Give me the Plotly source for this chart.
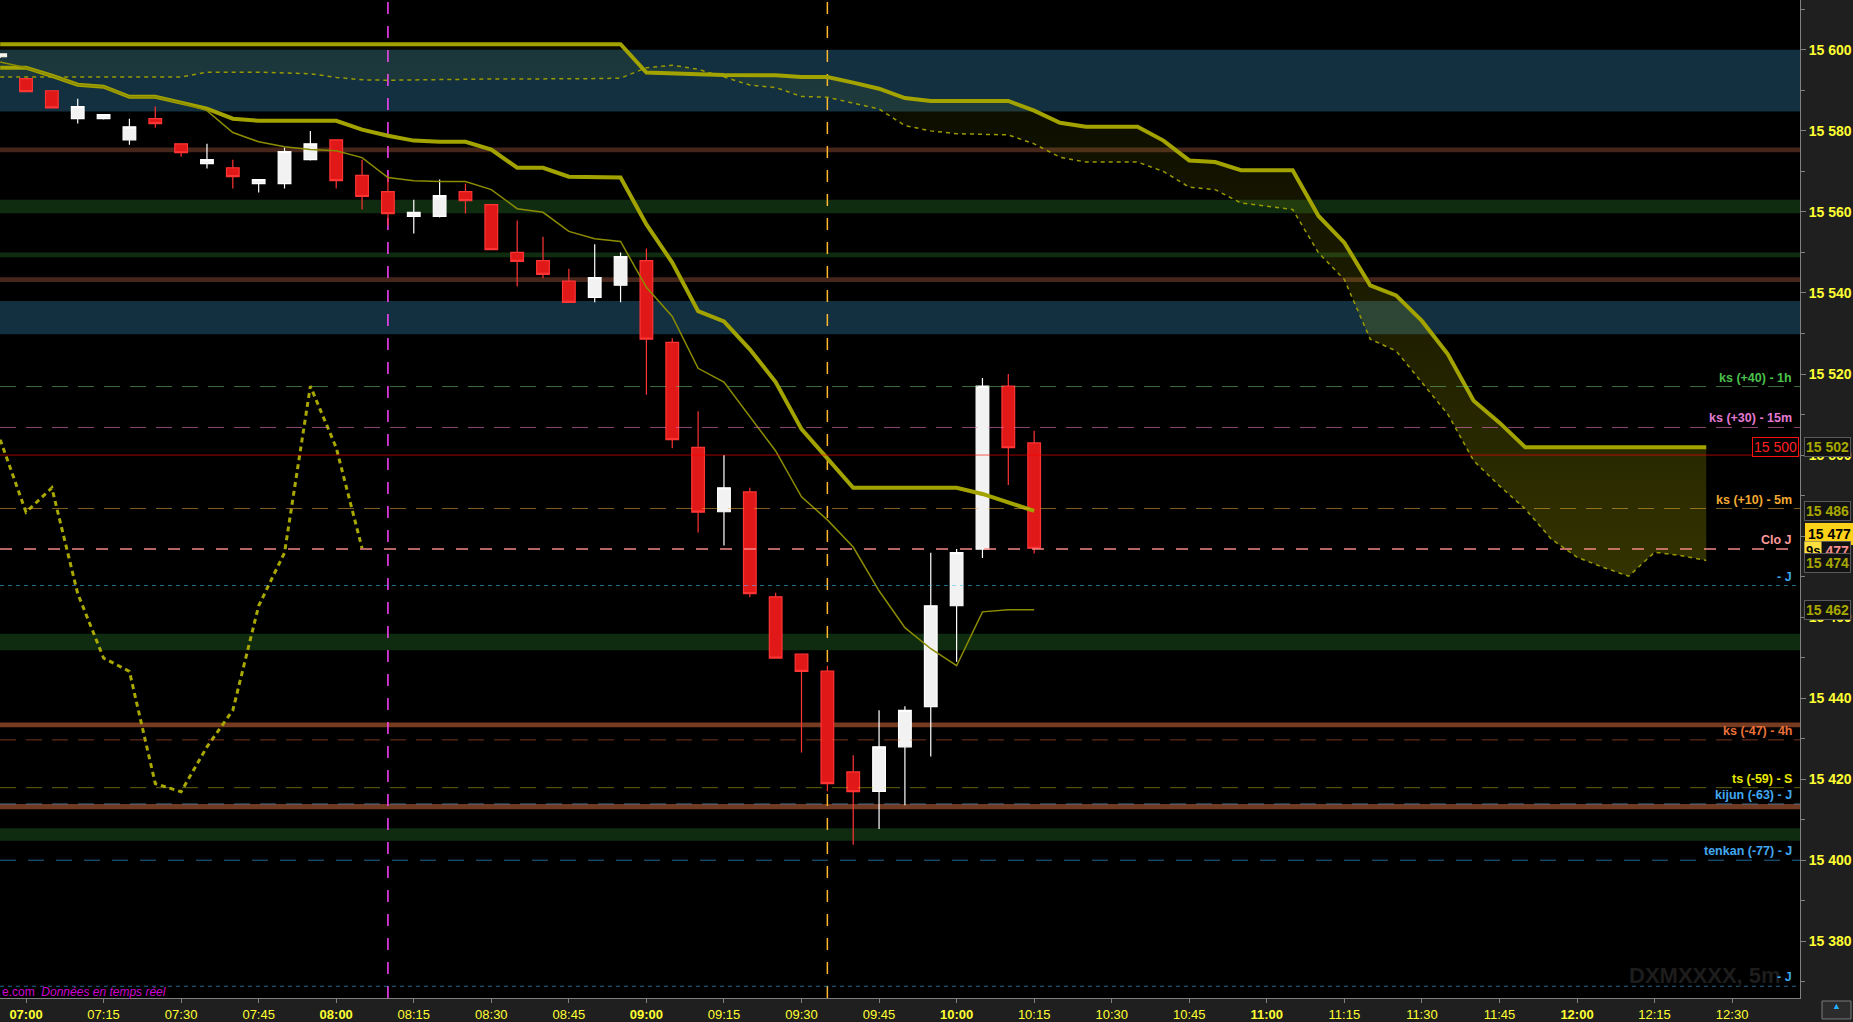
import pandas as pd
import plotly.graph_objects as go

# ---------------- data ----------------
candle_times = pd.date_range("2024-01-15 06:55", periods=41, freq="5min")
span_times = pd.date_range("2024-01-15 06:55", periods=67, freq="5min")

opens = [15598.3, 15592.9, 15589.9, 15583.0, 15583.0, 15577.8, 15583.0, 15576.8, 15571.9, 15570.9,
         15567.0, 15567.0, 15572.9, 15577.8, 15569.0, 15565.0, 15558.9, 15558.9, 15565.0, 15561.8,
         15550.0, 15548.0, 15542.9, 15538.9, 15541.9, 15548.0, 15527.8, 15501.9, 15486.0, 15490.9,
         15465.0, 15450.9, 15446.7, 15421.8, 15417.0, 15428.0, 15437.9, 15462.8, 15476.8, 15517.0,
         15503.0]
highs = [15599.0, 15593.0, 15589.9, 15587.9, 15584.0, 15583.0, 15586.0, 15576.8, 15576.8, 15572.9,
         15568.0, 15575.9, 15580.0, 15577.8, 15572.9, 15569.0, 15563.0, 15568.0, 15567.0, 15561.8,
         15557.9, 15553.9, 15546.0, 15552.0, 15550.0, 15551.0, 15528.8, 15510.8, 15500.0, 15491.9,
         15466.0, 15450.9, 15448.0, 15425.9, 15437.0, 15438.0, 15475.9, 15476.8, 15519.0, 15520.0,
         15506.0]
lows = [15598.0, 15589.7, 15585.7, 15581.8, 15582.8, 15576.6, 15580.8, 15573.6, 15570.7, 15565.8,
        15564.8, 15565.8, 15572.7, 15565.8, 15560.6, 15556.7, 15554.7, 15558.6, 15559.6, 15550.7,
        15541.6, 15543.6, 15537.7, 15537.7, 15537.7, 15514.9, 15501.7, 15480.9, 15477.7, 15464.9,
        15449.9, 15426.6, 15417.0, 15403.8, 15407.7, 15413.6, 15425.6, 15449.0, 15474.6, 15492.6,
        15475.7]
closes = [15599.0, 15589.7, 15585.7, 15586.0, 15584.0, 15581.0, 15581.8, 15574.6, 15572.9, 15568.7,
          15568.0, 15574.9, 15576.8, 15567.7, 15563.8, 15559.6, 15559.9, 15564.0, 15562.8, 15550.7,
          15547.8, 15544.6, 15537.7, 15543.8, 15549.0, 15528.6, 15503.8, 15485.9, 15491.9, 15465.8,
          15449.9, 15446.6, 15418.9, 15416.9, 15428.0, 15437.0, 15462.8, 15475.9, 15517.0, 15501.8,
          15477.0]

kijun = [15595.6, 15595.6, 15593.6, 15591.4, 15590.9, 15588.4, 15588.4, 15586.9, 15585.5, 15583.0,
         15582.5, 15582.5, 15582.5, 15582.5, 15580.3, 15578.8, 15577.6, 15577.3, 15577.3, 15575.4,
         15570.9, 15570.9, 15568.7, 15568.6, 15568.5, 15556.9, 15547.5, 15535.5, 15533.0, 15526.1,
         15518.0, 15506.4, 15499.0, 15491.9, 15491.9, 15491.9, 15491.9, 15491.9, 15490.4, 15488.4,
         15486.2]
tenkan = [15597.0, 15595.6, 15593.6, 15591.4, 15590.9, 15588.4, 15588.4, 15586.9, 15585.0, 15579.6,
          15577.3, 15576.1, 15575.4, 15575.1, 15573.4, 15568.5, 15567.7, 15567.5, 15567.5, 15565.5,
          15560.8, 15559.9, 15555.2, 15553.4, 15552.7, 15541.4, 15534.2, 15521.4, 15518.0, 15509.4,
          15501.0, 15489.7, 15484.0, 15477.3, 15466.5, 15457.4, 15452.2, 15448.0, 15461.3, 15461.8,
          15461.8]
senkou_a = [15593.3, 15593.3, 15593.3, 15593.3, 15593.3, 15593.3, 15593.3, 15593.3, 15594.5, 15594.5,
            15594.5, 15594.3, 15594.1, 15593.2, 15592.6, 15592.5, 15592.6, 15592.7, 15592.7, 15592.8,
            15592.8, 15592.8, 15592.8, 15592.9, 15593.0, 15595.6, 15596.2, 15595.2, 15593.3, 15591.3,
            15590.7, 15588.5, 15588.3, 15586.8, 15585.4, 15581.3, 15580.0, 15579.3, 15579.1, 15579.0,
            15576.8, 15573.5, 15572.3, 15572.3, 15572.3, 15570.0, 15566.1, 15565.5, 15562.2, 15561.4,
            15560.6, 15549.9, 15543.3, 15528.6, 15525.7, 15517.9, 15510.1, 15498.6, 15492.4, 15486.7,
            15479.3, 15474.8, 15472.3, 15470.1, 15476.0, 15475.2, 15474.0]
senkou_b = [15601.4] * 25 + [
            15594.4, 15594.3, 15594.0, 15593.8, 15593.8, 15593.7, 15593.3, 15593.3, 15591.9, 15590.4,
            15588.1, 15587.4, 15587.4, 15587.4, 15587.4, 15585.0, 15582.0, 15581.0, 15581.0, 15581.0,
            15577.6, 15572.7, 15572.3, 15570.3, 15570.3, 15570.3, 15559.0, 15552.4, 15541.9, 15539.4,
            15533.1, 15524.9, 15513.4, 15508.0, 15501.9, 15501.9, 15501.9, 15501.9, 15501.9, 15501.9,
            15501.9, 15501.9]
chikou_shift = 26

x_tick_labels = ["07:00", "07:15", "07:30", "07:45", "08:00", "08:15", "08:30", "08:45",
                 "09:00", "09:15", "09:30", "09:45", "10:00", "10:15", "10:30", "10:45",
                 "11:00", "11:15", "11:30", "11:45", "12:00", "12:15", "12:30"]
y_tick_values = [15380, 15400, 15420, 15440, 15460, 15480, 15500, 15520, 15540, 15560, 15580, 15600]
y_minor_values = [15370, 15390, 15410, 15430, 15450, 15470, 15490, 15510, 15530, 15550, 15570, 15590, 15610]

# zones (low, high, color)
zones = [
    (15584.8, 15600.0, "#12303f"),
    (15529.8, 15538.0, "#12303f"),
    (15574.7, 15575.9, "#46251a"),
    (15542.7, 15543.9, "#46251a"),
    (15559.7, 15563.0, "#0f2c10"),
    (15548.8, 15550.0, "#0f2c10"),
    (15451.8, 15455.9, "#0f2c10"),
    (15404.8, 15407.9, "#0f2c10"),
    (15432.8, 15434.0, "#763b20"),
    (15412.6, 15413.9, "#6e3a22"),
]
# levels (value, label, label color, line color, dash, width)
levels = [
    (15516.9, "ks (+40) - 1h", "#4cc04c", "rgba(110,200,110,0.55)", "16px,10px", 1),
    (15506.8, "ks (+30) - 15m", "#e27ad2", "rgba(240,120,200,0.58)", "16px,10px", 1),
    (15500.0, None, None, "rgba(255,0,0,0.63)", "solid", 1),
    (15486.8, "ks (+10) - 5m", "#f2a830", "rgba(240,180,60,0.53)", "16px,10px", 1),
    (15476.8, "Clo J", "#ff9a9a", "rgba(255,140,140,0.95)", "12px,12px", 1.5),
    (15467.8, "- J", "#3aa6e8", "rgba(70,190,255,0.55)", "4px,4px", 1),
    (15429.7, "ks (-47) - 4h", "#ea7038", "rgba(240,110,60,0.5)", "16px,10px", 1),
    (15417.9, "ts (-59) - S", "#e8e800", "rgba(220,220,30,0.45)", "16px,10px", 1),
    (15413.9, "kijun (-63) - J", "#40a8f0", "rgba(90,160,220,0.6)", "16px,10px", 1),
    (15400.0, "tenkan (-77) - J", "#40a8f0", "rgba(50,170,250,0.6)", "16px,12px", 1),
    (15368.9, "- J", "#3aa6e8", "rgba(70,190,255,0.55)", "4px,4px", 1),
]
vlines = [("2024-01-15 08:10", "#ff44ff"), ("2024-01-15 09:35", "#ffb830")]

# price boxes on the axis (text, y, text color, background, border)
price_boxes = [
    ("15 502", 15501.9, "#a8a800", "#121212", "#5a5a5a"),
    ("15 486", 15486.3, "#a8a800", "#121212", "#5a5a5a"),
    ("15 477", 15476.4, "#ff9090", "#121212", "#5a5a5a"),
    ("15 474", 15473.4, "#a8a800", "#121212", "#5a5a5a"),
    ("15 462", 15461.7, "#a8a800", "#121212", "#5a5a5a"),
]

# ---------------- figure ----------------
FONT = "Liberation Sans, Arial, sans-serif"
fig = go.Figure()

fig.add_trace(go.Scatter(
    x=span_times, y=senkou_a, mode="lines",
    line=dict(color="#9a9a00", width=1.5, dash="4px,4px"), hoverinfo="skip", showlegend=False))
fig.add_trace(go.Scatter(
    x=span_times, y=senkou_b, mode="lines",
    line=dict(color="#a3a300", width=4), fill="tonexty",
    fillgradient=dict(type="vertical",
                      colorscale=[[0, "rgba(175,175,0,0.30)"], [1, "rgba(175,175,0,0.05)"]],
                      start=15465, stop=15600),
    hoverinfo="skip", showlegend=False))

fig.add_trace(go.Candlestick(
    x=candle_times, open=opens, high=highs, low=lows, close=closes,
    increasing=dict(line=dict(color="#ffffff", width=1.2), fillcolor="#f2f2f2"),
    decreasing=dict(line=dict(color="#ff3434", width=1.2), fillcolor="#e01818"),
    whiskerwidth=0, hoverinfo="skip", showlegend=False))

fig.add_trace(go.Scatter(
    x=candle_times, y=kijun, mode="lines",
    line=dict(color="#a3a300", width=4), hoverinfo="skip", showlegend=False))
fig.add_trace(go.Scatter(
    x=candle_times, y=tenkan, mode="lines",
    line=dict(color="#8c8c00", width=1.5), hoverinfo="skip", showlegend=False))
fig.add_trace(go.Scatter(
    x=candle_times[:len(closes) - chikou_shift], y=closes[chikou_shift:], mode="lines",
    line=dict(color="#a8a800", width=3, dash="5px,4px"), hoverinfo="skip", showlegend=False))

shapes = []
for lo, hi, col in zones:
    shapes.append(dict(type="rect", xref="paper", x0=0, x1=1, yref="y", y0=lo, y1=hi,
                       fillcolor=col, line=dict(width=0), layer="below"))
for xv, col in vlines:
    shapes.append(dict(type="line", xref="x", x0=xv, x1=xv, yref="paper", y0=0, y1=1,
                       line=dict(color=col, width=1.5, dash="12px,12px"), layer="below"))
for val, lab, lcol, col, dash, w in levels:
    shapes.append(dict(type="line", xref="paper", x0=0, x1=1, yref="y", y0=val, y1=val,
                       line=dict(color=col, width=w, dash=dash), layer="above"))
# small button bottom right
shapes.append(dict(type="rect", xref="paper", x0=1822 / 1800, x1=1851 / 1800, yref="paper",
                   y0=-0.003, y1=-0.021, line=dict(color="#7a7a7a", width=1), fillcolor="#2c2c2c"))
fig.update_layout(shapes=shapes)

ann = []
ann.append(dict(text="<b>DXMXXXX, 5m</b>", xref="paper", yref="paper", x=1783 / 1800, y=0.023,
                xanchor="right", yanchor="middle", showarrow=False,
                font=dict(family=FONT, size=22, color="#1d1d1d")))
for val, lab, lcol, col, dash, w in levels:
    if lab:
        ann.append(dict(text=lab, xref="paper", yref="y", x=1794 / 1800, y=val,
                        xanchor="right", yanchor="bottom", showarrow=False,
                        font=dict(family=FONT, size=12.5, color=lcol, weight="bold")))
ann.append(dict(text="15 500", xref="paper", yref="y", x=1, y=15502.0, xanchor="right",
                yanchor="middle", xshift=-1, showarrow=False, bgcolor="#000000",
                bordercolor="#ff1010", borderwidth=1, borderpad=1,
                font=dict(family=FONT, size=14, color="#ff2020")))
ann.append(dict(text="<b>15 477</b>", xref="paper", yref="y", x=1, y=15480.5, xanchor="left",
                yanchor="middle", xshift=5, showarrow=False, bgcolor="#ffd21a",
                bordercolor="#ffd21a", borderwidth=1, borderpad=2,
                font=dict(family=FONT, size=14, color="#000000")))
for txt, val, tcol, bg, bd in price_boxes:
    ann.append(dict(text=txt, xref="paper", yref="y", x=1, y=val, xanchor="left",
                    yanchor="middle", xshift=4, showarrow=False, bgcolor=bg,
                    bordercolor=bd, borderwidth=1, borderpad=1,
                    font=dict(family=FONT, size=14, color=tcol, weight="bold")))
    if txt == "15 477":
        ann.append(dict(text="<b>9s</b>", xref="paper", yref="y", x=1, y=val, xanchor="left",
                        yanchor="middle", xshift=4, showarrow=False, bgcolor="#ffe040",
                        borderpad=1, font=dict(family=FONT, size=13, color="#000000")))
ann.append(dict(text="e.com  <i>Données en temps réel</i>", xref="paper", yref="paper", x=0, y=0.006,
                xanchor="left", yanchor="middle", showarrow=False,
                font=dict(family=FONT, size=12, color="#d000d0")))
ann.append(dict(text="▲", xref="paper", yref="paper", x=1836.5 / 1800, y=-0.008,
                xanchor="center", yanchor="middle", showarrow=False,
                font=dict(family=FONT, size=9, color="#20b0ff")))
fig.update_layout(annotations=ann)

tick_vals_x = [pd.Timestamp("2024-01-15 " + t) for t in x_tick_labels]
tick_text_x = ["<b>%s</b>" % t if t.endswith(":00") else t for t in x_tick_labels]

fig.update_layout(
    width=1853, height=1022,
    margin=dict(l=0, r=53, t=0, b=22, pad=0),
    paper_bgcolor="#1f1f1f", plot_bgcolor="#000000",
    font=dict(family=FONT),
    showlegend=False, hovermode=False,
    xaxis=dict(type="date", range=["2024-01-15 06:54:58", "2024-01-15 12:43:08"],
               rangeslider=dict(visible=False),
               tickvals=tick_vals_x, ticktext=tick_text_x,
               ticks="outside", ticklen=4, tickcolor="#808080",
               showline=True, linecolor="#808080", linewidth=1,
               showgrid=False, zeroline=False,
               tickfont=dict(family=FONT, size=13, color="#ffff33")),
    yaxis=dict(side="right", range=[15366.0, 15612.3],
               tickvals=y_tick_values, ticktext=["%d %03d" % (v // 1000, v % 1000) for v in y_tick_values],
               ticks="outside", ticklen=5, tickcolor="#808080",
               minor=dict(tickvals=y_minor_values, ticks="outside", ticklen=4, tickcolor="#808080"),
               showline=True, linecolor="#808080", linewidth=1,
               showgrid=False, zeroline=False,
               tickfont=dict(family=FONT, size=14, color="#ffff33", weight="bold")),
)

fig.write_html("out.html", config={"displayModeBar": False},
               post_script="document.body.style.margin='0';document.body.style.overflow='hidden';")
